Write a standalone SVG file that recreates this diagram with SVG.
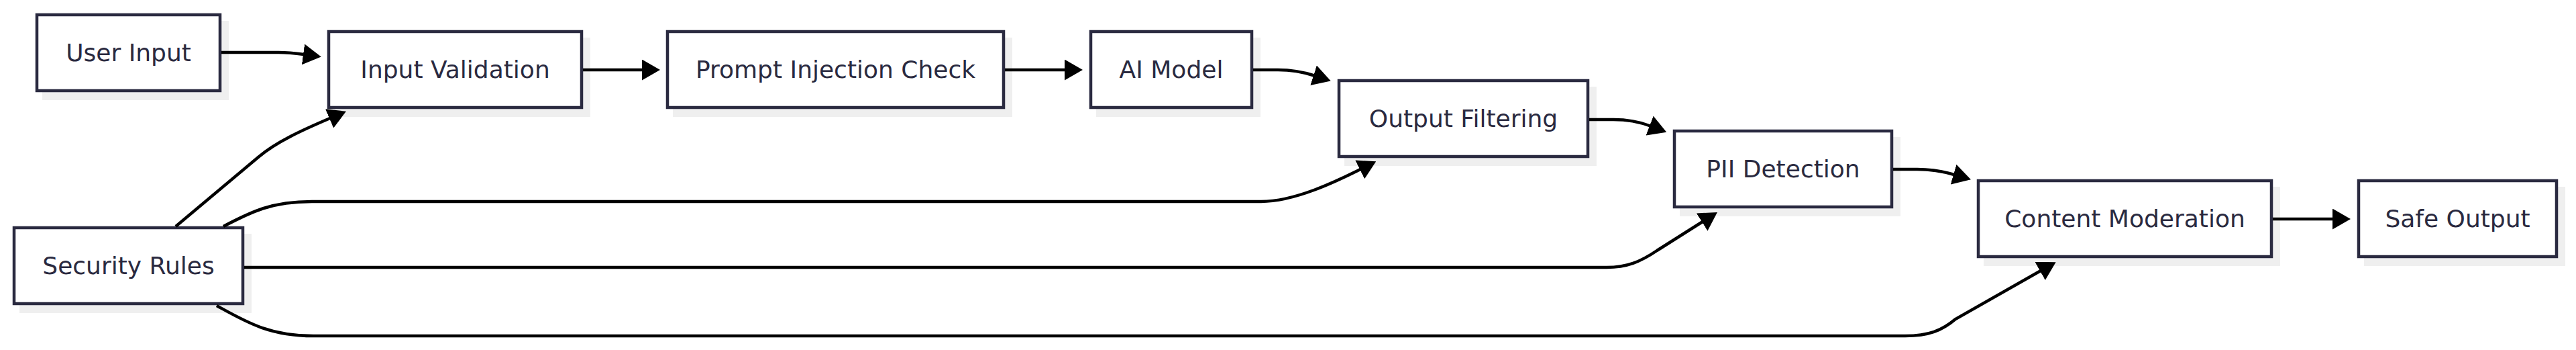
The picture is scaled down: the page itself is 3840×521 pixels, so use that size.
<svg xmlns="http://www.w3.org/2000/svg" width="3840" height="521" viewBox="0 0 3840 521">
<style>
.shadow{fill:#efefef;stroke:none}
.box{fill:#ffffff;stroke:#2a2a40;stroke-width:4.5}
.lbl{font-family:"DejaVu Sans","Liberation Sans",sans-serif;font-size:36px;fill:#2a2a40;text-anchor:middle}
.edge{fill:none;stroke:#000000;stroke-width:4.5}
</style>
<defs>
<marker id="arrow" viewBox="0 0 27 31" refX="1" refY="15.5" markerWidth="27" markerHeight="31" markerUnits="userSpaceOnUse" orient="auto">
<path d="M0,0 L27,15.5 L0,31 z" fill="#000000"/>
</marker>
</defs>
<rect width="3840" height="521" fill="#ffffff"/>
<g id="node-user-input">
<rect class="shadow" x="63" y="31" width="278" height="118"/>
<rect class="box" x="55" y="22" width="273" height="113"/>
<text class="lbl" x="191.5" y="90.5">User Input</text>
</g>
<g id="node-input-validation">
<rect class="shadow" x="498" y="56" width="382" height="118"/>
<rect class="box" x="490" y="47" width="377" height="113"/>
<text class="lbl" x="678.5" y="115.5">Input Validation</text>
</g>
<g id="node-prompt-injection">
<rect class="shadow" x="1003" y="56" width="506" height="118"/>
<rect class="box" x="995" y="47" width="501" height="113"/>
<text class="lbl" x="1245.5" y="115.5">Prompt Injection Check</text>
</g>
<g id="node-ai-model">
<rect class="shadow" x="1634" y="56" width="245" height="118"/>
<rect class="box" x="1626" y="47" width="240" height="113"/>
<text class="lbl" x="1746" y="115.5">AI Model</text>
</g>
<g id="node-output-filtering">
<rect class="shadow" x="2004" y="129" width="376" height="118"/>
<rect class="box" x="1996" y="120" width="371" height="113"/>
<text class="lbl" x="2181.5" y="189">Output Filtering</text>
</g>
<g id="node-pii-detection">
<rect class="shadow" x="2504" y="204" width="329" height="118"/>
<rect class="box" x="2496" y="195" width="324" height="113"/>
<text class="lbl" x="2658" y="263.5">PII Detection</text>
</g>
<g id="node-content-moderation">
<rect class="shadow" x="2957" y="278" width="442" height="118"/>
<rect class="box" x="2949" y="269" width="437" height="113"/>
<text class="lbl" x="3167.5" y="337.5">Content Moderation</text>
</g>
<g id="node-safe-output">
<rect class="shadow" x="3524" y="278" width="300" height="118"/>
<rect class="box" x="3516" y="269" width="295" height="113"/>
<text class="lbl" x="3663.5" y="337.5">Safe Output</text>
</g>
<g id="node-security-rules">
<rect class="shadow" x="29" y="348" width="346" height="118"/>
<rect class="box" x="21" y="339" width="341" height="113"/>
<text class="lbl" x="191.5" y="407.5">Security Rules</text>
</g>
<g id="connectors">
<path class="edge" marker-end="url(#arrow)" d="M330,78 L415,78 C430,78 442,79.5 453,81"/>
<path class="edge" marker-end="url(#arrow)" d="M869,104 L958,104"/>
<path class="edge" marker-end="url(#arrow)" d="M1498,104 L1588,104"/>
<path class="edge" marker-end="url(#arrow)" d="M1868,104 L1905,104 C1925,104 1942,107 1959,112.5"/>
<path class="edge" marker-end="url(#arrow)" d="M2369,178 L2405,178 C2425,178 2443,181 2460,187.5"/>
<path class="edge" marker-end="url(#arrow)" d="M2822,252 L2858,252 C2878,252 2896,255 2913,260"/>
<path class="edge" marker-end="url(#arrow)" d="M3388,326 L3478,326"/>
<path class="edge" marker-end="url(#arrow)" d="M262,337 L385,234 C412,211 452,193 492,176"/>
<path class="edge" marker-end="url(#arrow)" d="M333,337 C375,315 405,300 465,300 L1880,300 C1930,300 1992,270 2028,252"/>
<path class="edge" marker-end="url(#arrow)" d="M364,398 L2395,398 C2425,398 2445,390 2470,373 L2538,330"/>
<path class="edge" marker-end="url(#arrow)" d="M323,455 C365,478 400,500 467,500 L2840,500 C2875,500 2895,492 2915,475 L3042,403"/>
</g>
</svg>
